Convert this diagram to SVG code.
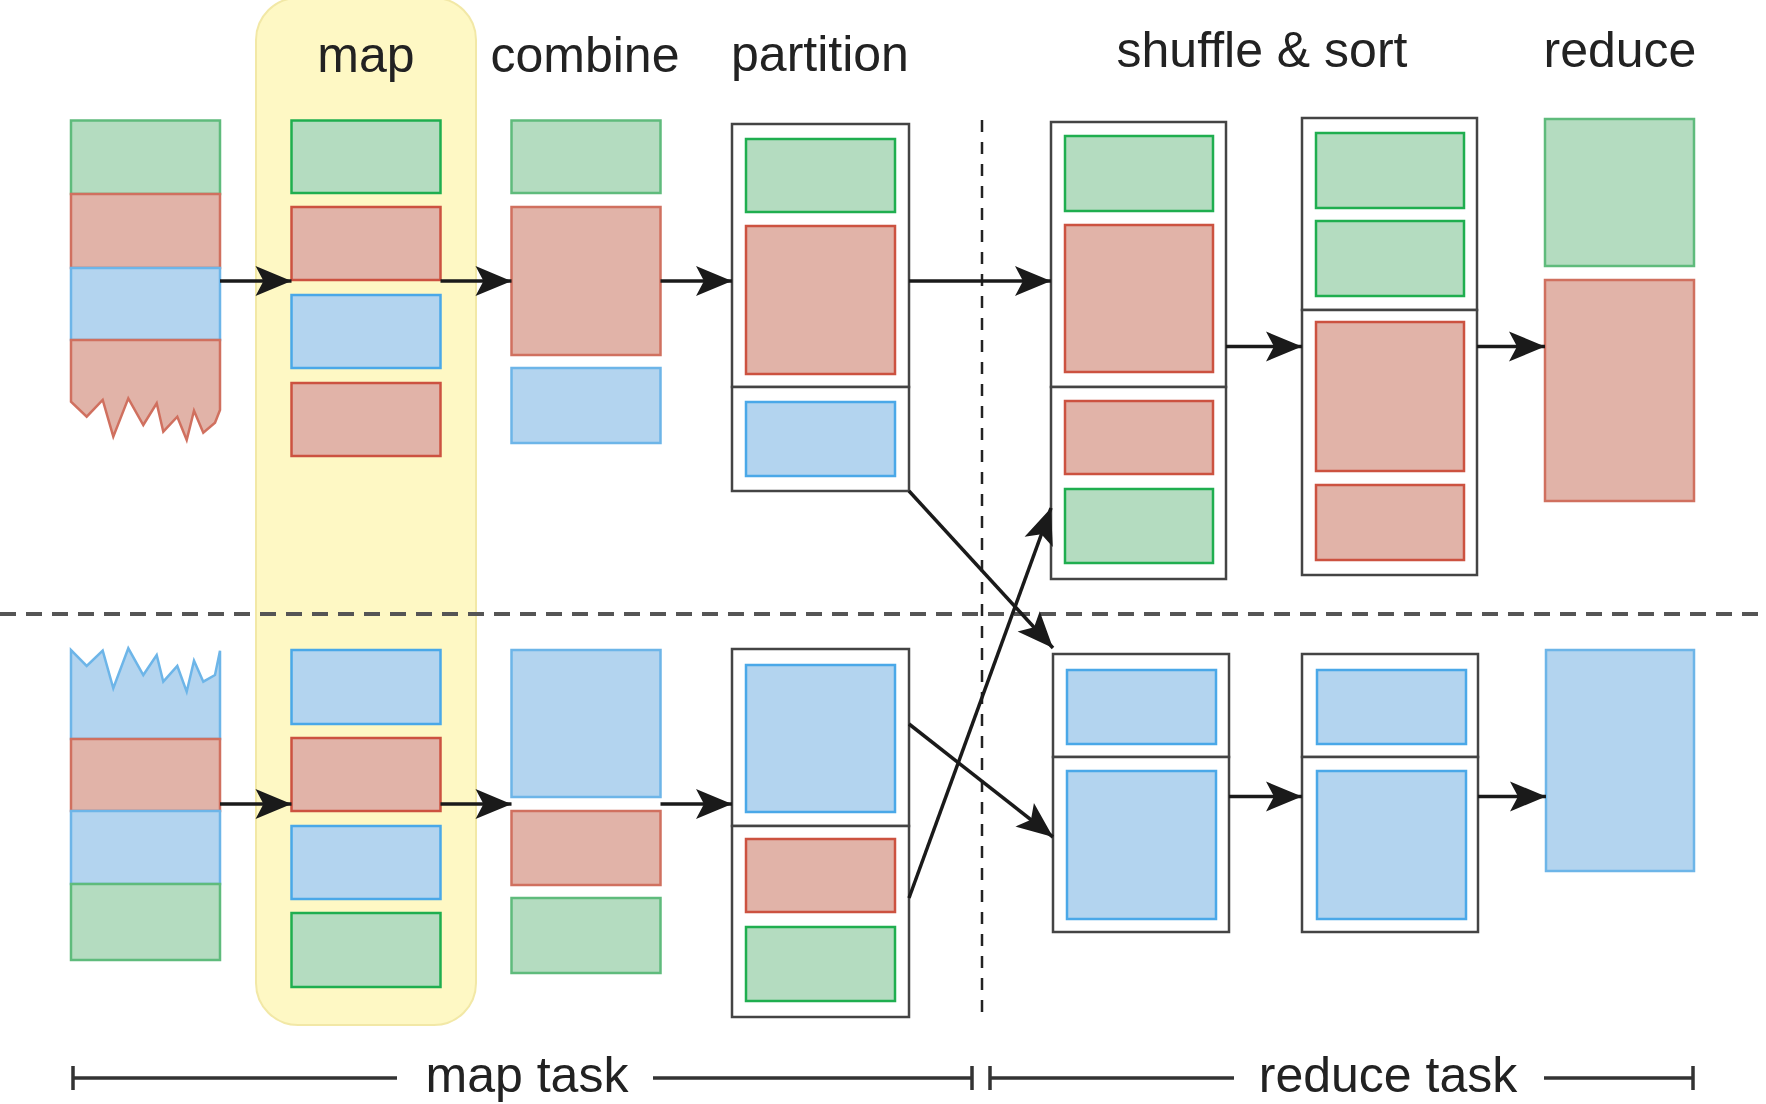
<svg xmlns="http://www.w3.org/2000/svg" width="1766" height="1104" viewBox="0 0 1766 1104">
<defs>
<style>
.g{fill:#b4dcc0;stroke:#5fbb7c;stroke-width:2.5}
.r{fill:#e1b3a8;stroke:#d0705f;stroke-width:2.5}
.b{fill:#b3d4ef;stroke:#6db5e8;stroke-width:2.5}
.mg{fill:#b4dcc0;stroke:#1fae4f;stroke-width:2.5}
.mr{fill:#e1b3a8;stroke:#cc5240;stroke-width:2.5}
.mb{fill:#b3d4ef;stroke:#4aa8e8;stroke-width:2.5}
.box{fill:#fff;stroke:#444;stroke-width:2.5}
.lbl{font-family:"Liberation Sans",Arial,Helvetica,sans-serif;font-size:50px;fill:#222;text-anchor:middle}
.arr{stroke:#1a1a1a;stroke-width:3.5;fill:none;marker-end:url(#ah)}
.scale{stroke:#333;stroke-width:3.5;fill:none}
</style>
<marker id="ah" markerUnits="userSpaceOnUse" markerWidth="40" markerHeight="32" viewBox="-36 -16 38 32" refX="0" refY="0" orient="auto">
<path d="M0,0 L-36,-15 L-28,0 L-36,15 Z" fill="#1a1a1a"/>
</marker>
</defs>
<rect width="1766" height="1104" fill="#fff"/>

<g id="map-band">
<rect x="256" y="-2" width="220" height="1027" rx="42" ry="42" fill="#fef8c4" stroke="#f2e8a6" stroke-width="2"/>
</g>

<g id="dividers">
<line x1="0" y1="614" x2="1766" y2="614" stroke="#555" stroke-width="4" stroke-dasharray="16 10"/>
<line x1="982" y1="120" x2="982" y2="1019" stroke="#222" stroke-width="2.5" stroke-dasharray="12 10"/>
</g>

<g id="labels">
<text class="lbl" x="366" y="72">map</text>
<text class="lbl" x="585" y="72">combine</text>
<text class="lbl" x="820" y="71">partition</text>
<text class="lbl" x="1262" y="67">shuffle &amp; sort</text>
<text class="lbl" x="1620" y="67">reduce</text>
</g>

<g id="input-top">
<rect class="g" x="71" y="120.5" width="149" height="73.5"/>
<rect class="r" x="71" y="194" width="149" height="74"/>
<rect class="b" x="71" y="268" width="149" height="72"/>
<path class="r" d="M71,340 L71,401.7 L86.7,416.7 L102.7,400 L113.3,436.7 L128.3,398.3 L143.3,425 L156.7,403.3 L163.3,431.7 L177.3,416.7 L186.7,440 L194,410.7 L203.3,432.7 L215,422.7 L220,410 L220,340 Z"/>
</g>

<g id="input-bottom">
<path class="b" d="M71,739 L71,650 L86.7,666 L102.7,650.7 L113.3,688.3 L128.3,648.3 L143.3,675 L156.7,655 L163.3,681.7 L177.3,666 L186.7,691.7 L194,660.7 L203.3,681.7 L215,675 L220,650.7 L220,739 Z"/>
<rect class="r" x="71" y="739" width="149" height="72"/>
<rect class="b" x="71" y="811" width="149" height="73"/>
<rect class="g" x="71" y="884" width="149" height="76"/>
</g>

<g id="map-top">
<rect class="mg" x="291.5" y="120.5" width="149" height="72.5"/>
<rect class="mr" x="291.5" y="207" width="149" height="73"/>
<rect class="mb" x="291.5" y="295" width="149" height="73"/>
<rect class="mr" x="291.5" y="383" width="149" height="73"/>
</g>
<g id="map-bottom">
<rect class="mb" x="291.5" y="650" width="149" height="74"/>
<rect class="mr" x="291.5" y="738" width="149" height="73"/>
<rect class="mb" x="291.5" y="826" width="149" height="73"/>
<rect class="mg" x="291.5" y="913" width="149" height="74"/>
</g>

<g id="combine-top">
<rect class="g" x="511.5" y="120.5" width="149" height="72.5"/>
<rect class="r" x="511.5" y="207" width="149" height="148"/>
<rect class="b" x="511.5" y="368" width="149" height="75"/>
</g>
<g id="combine-bottom">
<rect class="b" x="511.5" y="650" width="149" height="147"/>
<rect class="r" x="511.5" y="811" width="149" height="74"/>
<rect class="g" x="511.5" y="898" width="149" height="75"/>
</g>

<g id="partition-top">
<rect class="box" x="732" y="124" width="177" height="263"/>
<rect class="box" x="732" y="387" width="177" height="104"/>
<rect class="mg" x="746" y="139" width="149" height="73"/>
<rect class="mr" x="746" y="226" width="149" height="148"/>
<rect class="mb" x="746" y="402" width="149" height="74"/>
</g>
<g id="partition-bottom">
<rect class="box" x="732" y="649" width="177" height="177"/>
<rect class="box" x="732" y="826" width="177" height="191"/>
<rect class="mb" x="746" y="665" width="149" height="147"/>
<rect class="mr" x="746" y="839" width="149" height="73"/>
<rect class="mg" x="746" y="927" width="149" height="74"/>
</g>

<g id="shuffle-top">
<rect class="box" x="1051" y="122" width="175" height="265"/>
<rect class="box" x="1051" y="387" width="175" height="192"/>
<rect class="mg" x="1065" y="136" width="148" height="75"/>
<rect class="mr" x="1065" y="225" width="148" height="147"/>
<rect class="mr" x="1065" y="401" width="148" height="73"/>
<rect class="mg" x="1065" y="489" width="148" height="74"/>
</g>
<g id="sort-top">
<rect class="box" x="1302" y="118" width="175" height="192"/>
<rect class="box" x="1302" y="310" width="175" height="265"/>
<rect class="mg" x="1316" y="133" width="148" height="75"/>
<rect class="mg" x="1316" y="221" width="148" height="75"/>
<rect class="mr" x="1316" y="322" width="148" height="149"/>
<rect class="mr" x="1316" y="485" width="148" height="75"/>
</g>
<g id="reduce-top">
<rect class="g" x="1545" y="119" width="149" height="147"/>
<rect class="r" x="1545" y="280" width="149" height="221"/>
</g>

<g id="shuffle-bottom">
<rect class="box" x="1053" y="654" width="176" height="103"/>
<rect class="box" x="1053" y="757" width="176" height="175"/>
<rect class="mb" x="1067" y="670" width="149" height="74"/>
<rect class="mb" x="1067" y="771" width="149" height="148"/>
</g>
<g id="sort-bottom">
<rect class="box" x="1302" y="654" width="176" height="103"/>
<rect class="box" x="1302" y="757" width="176" height="175"/>
<rect class="mb" x="1317" y="670" width="149" height="74"/>
<rect class="mb" x="1317" y="771" width="149" height="148"/>
</g>
<g id="reduce-bottom">
<rect class="b" x="1546" y="650" width="148" height="221"/>
</g>

<g id="connectors">
<line class="arr" x1="220" y1="281" x2="291.5" y2="281"/>
<line class="arr" x1="440.5" y1="281" x2="511.5" y2="281"/>
<line class="arr" x1="660.5" y1="281" x2="732" y2="281"/>
<line class="arr" x1="909" y1="281" x2="1051" y2="281"/>
<line class="arr" x1="1226" y1="346.5" x2="1302" y2="346.5"/>
<line class="arr" x1="1477" y1="346.5" x2="1545" y2="346.5"/>
<line class="arr" x1="220" y1="804" x2="291.5" y2="804"/>
<line class="arr" x1="440.5" y1="804" x2="511.5" y2="804"/>
<line class="arr" x1="660.5" y1="804" x2="732" y2="804"/>
<line class="arr" x1="1229" y1="796.5" x2="1302" y2="796.5"/>
<line class="arr" x1="1478" y1="796.5" x2="1546" y2="796.5"/>
<line class="arr" x1="909" y1="491" x2="1053" y2="648"/>
<line class="arr" x1="909" y1="724" x2="1053" y2="837"/>
<line class="arr" x1="909" y1="898" x2="1051" y2="508"/>
</g>

<g id="map-task-scale">
<path class="scale" d="M73,1078 L397,1078 M653,1078 L972,1078 M73,1066 L73,1090 M972,1066 L972,1090"/>
<text class="lbl" x="527" y="1092" style="font-size:50px">map task</text>
</g>
<g id="reduce-task-scale">
<path class="scale" d="M990,1078 L1234,1078 M1544,1078 L1693,1078 M990,1066 L990,1090 M1693,1066 L1693,1090"/>
<text class="lbl" x="1388" y="1092" style="font-size:50px">reduce task</text>
</g>
</svg>
